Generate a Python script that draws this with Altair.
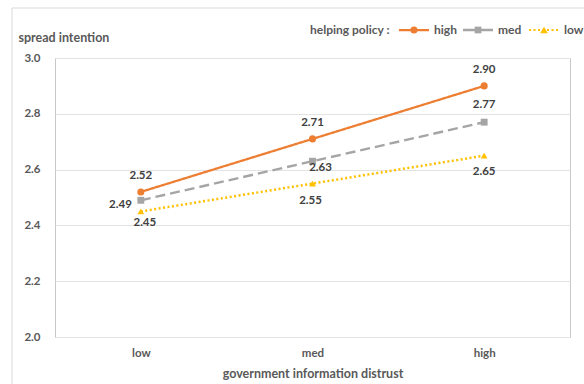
import altair as alt
import pandas as pd

# ---- data ----
categories = ["low", "med", "high"]
series = ["high", "med", "low"]
high_values = [2.52, 2.71, 2.90]
med_values = [2.49, 2.63, 2.77]
low_values = [2.45, 2.55, 2.65]
y_ticks = [2.0, 2.2, 2.4, 2.6, 2.8, 3.0]

values_by_series = {"high": high_values, "med": med_values, "low": low_values}
rows = []
for s in series:
    for c, v in zip(categories, values_by_series[s]):
        rows.append({"distrust": c, "policy": s, "value": v, "label": f"{v:.2f}"})
df = pd.DataFrame(rows)

# ---- styling ----
FONT = "Lato"
AXIS_GREY = "#595959"
LABEL_GREY = "#404040"
colors = {"high": "#ED7D31", "med": "#A5A5A5", "low": "#FFC000"}
dashes = {"high": [1, 0], "med": [10, 5], "low": [2, 2.5]}
legend_dashes = {"high": [1, 0], "med": [1, 0], "low": [2, 2.5]}
shapes = {"high": "circle", "med": "square", "low": "triangle-up"}
sizes = {"high": 50, "med": 45, "low": 60}
widths = {"high": 2.25, "med": 2.5, "low": 2.0}

W, H = 515, 279
PAD_L, PAD_T = 55, 58

x_enc = alt.X(
    "distrust:N",
    sort=categories,
    scale=alt.Scale(type="point", domain=categories, padding=0.5),
    axis=alt.Axis(
        title="government information distrust",
        labelAngle=0,
        labelFont=FONT,
        labelFontSize=11.5,
        labelFontWeight="bold",
        labelColor=AXIS_GREY,
        labelPadding=10,
        ticks=False,
        domain=False,
        grid=False,
        titleFont=FONT,
        titleFontSize=12.5,
        titleFontWeight="bold",
        titleColor=AXIS_GREY,
        titleBaseline="middle",
        titleY=36,
    ),
)
y_enc = alt.Y(
    "value:Q",
    scale=alt.Scale(domain=[2.0, 3.0], nice=False, zero=False),
    axis=alt.Axis(
        title="spread intention",
        values=y_ticks,
        format=".1f",
        labelFont=FONT,
        labelFontSize=11.5,
        labelFontWeight="bold",
        labelColor=AXIS_GREY,
        labelPadding=15,
        ticks=False,
        domain=False,
        grid=True,
        gridColor="#E3E3E3",
        gridWidth=1,
        titleAngle=0,
        titleAlign="left",
        titleBaseline="middle",
        titleX=-37,
        titleY=-21,
        titleFont=FONT,
        titleFontSize=12.5,
        titleFontWeight="bold",
        titleColor=AXIS_GREY,
    ),
)

color_enc = alt.Color("policy:N", scale=alt.Scale(domain=series, range=[colors[s] for s in series]), legend=None)

lines = alt.Chart(df).mark_line().encode(
    x=x_enc,
    y=y_enc,
    color=color_enc,
    strokeDash=alt.StrokeDash("policy:N", scale=alt.Scale(domain=series, range=[dashes[s] for s in series]), legend=None),
    strokeWidth=alt.StrokeWidth("policy:N", scale=alt.Scale(domain=series, range=[widths[s] for s in series]), legend=None),
)

points = alt.Chart(df).mark_point(filled=True, opacity=1).encode(
    x=x_enc,
    y=y_enc,
    color=color_enc,
    shape=alt.Shape("policy:N", scale=alt.Scale(domain=series, range=[shapes[s] for s in series]), legend=None),
    size=alt.Size("policy:N", scale=alt.Scale(domain=series, range=[sizes[s] for s in series]), legend=None),
)

# value label placement per (series, category): align, dx, dy
placement = {
    ("high", "low"): ("center", 0, -16),
    ("high", "med"): ("center", 0, -16),
    ("high", "high"): ("center", 0, -16),
    ("med", "low"): ("right", -9, 5),
    ("med", "med"): ("center", 8, 7),
    ("med", "high"): ("center", 0, -17),
    ("low", "low"): ("center", 4, 12),
    ("low", "med"): ("center", -2, 17),
    ("low", "high"): ("center", 0, 16),
}
label_layers = []
for (s, c), (align, dx, dy) in placement.items():
    label_layers.append(
        alt.Chart(df)
        .transform_filter((alt.datum.policy == s) & (alt.datum.distrust == c))
        .mark_text(
            align=align, baseline="middle", dx=dx, dy=dy,
            font=FONT, fontSize=11.5, fontWeight="bold", color=LABEL_GREY,
        )
        .encode(x=x_enc, y=y_enc, text="label:N")
    )

# ---- legend drawn above the plot ----
LEG_Y = -28
legend_layers = [
    alt.Chart(pd.DataFrame({"t": ["helping policy :"]}))
    .mark_text(align="left", baseline="middle", font=FONT, fontSize=12, fontWeight="bold", color=AXIS_GREY)
    .encode(x=alt.value(310 - PAD_L), y=alt.value(LEG_Y), text="t:N")
]
legend_x = {"high": 399, "med": 463, "low": 529}
for s in series:
    x0 = legend_x[s] - PAD_L
    one = pd.DataFrame({"policy": [s]})
    legend_layers.append(
        alt.Chart(one).mark_rule(color=colors[s], strokeWidth=widths[s], strokeDash=legend_dashes[s])
        .encode(x=alt.value(x0), x2=alt.value(x0 + 30), y=alt.value(LEG_Y))
    )
    legend_layers.append(
        alt.Chart(one).mark_point(filled=True, opacity=1, color=colors[s], shape=shapes[s], size=sizes[s])
        .encode(x=alt.value(x0 + 15), y=alt.value(LEG_Y))
    )
    legend_layers.append(
        alt.Chart(one).mark_text(align="left", baseline="middle", font=FONT, fontSize=12, fontWeight="bold", color=AXIS_GREY)
        .encode(x=alt.value(x0 + 35), y=alt.value(LEG_Y), text="policy:N")
    )

# ---- outer chart frame ----
frame_df = pd.DataFrame({"f": [0]})
frame = [
    alt.Chart(frame_df).mark_rule(color="#D9D9D9", strokeWidth=1)
    .encode(x=alt.value(12 - PAD_L), y=alt.value(8 - PAD_T), y2=alt.value(H + 100)),
    alt.Chart(frame_df).mark_rule(color="#D9D9D9", strokeWidth=1)
    .encode(x=alt.value(12 - PAD_L), x2=alt.value(W + 100), y=alt.value(8 - PAD_T)),
]

chart = (
    alt.layer(*frame, lines, points, *label_layers, *legend_layers)
    .properties(
        width=W,
        height=H,
        autosize=alt.AutoSizeParams(type="none"),
        padding={"left": PAD_L, "top": PAD_T, "right": 584 - PAD_L - W, "bottom": 384 - PAD_T - H},
        background="white",
    )
    .configure_view(stroke="#C8C8C8", strokeWidth=1)
)

chart.save("out.html", embed_options={"renderer": "svg", "actions": False})
